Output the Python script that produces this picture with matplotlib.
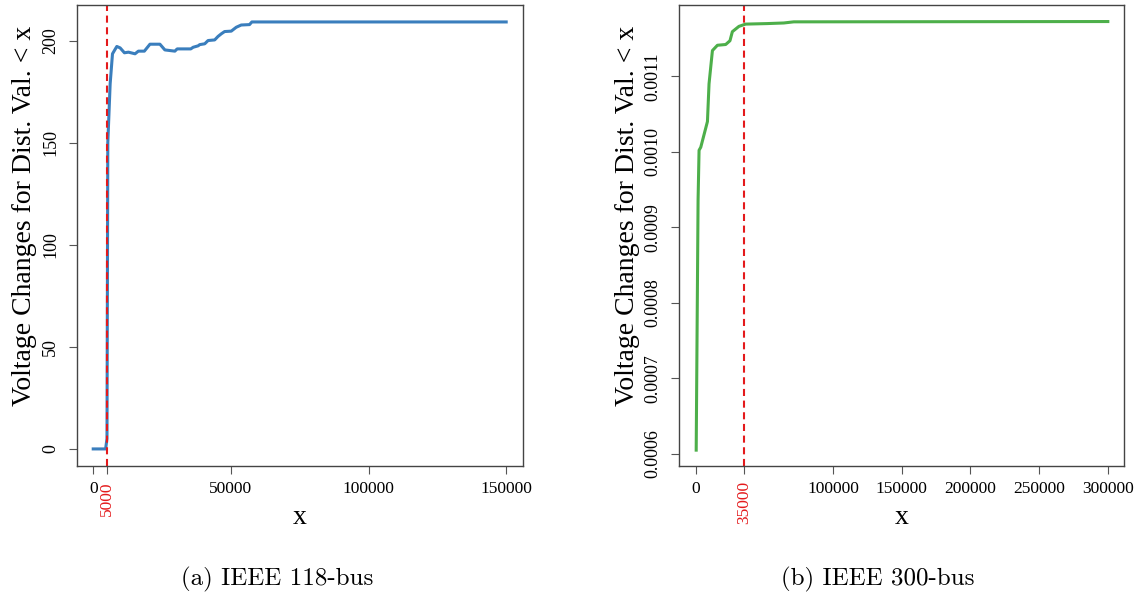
import matplotlib
matplotlib.use("Agg")
import matplotlib.pyplot as plt

# ---- data: panel (a) IEEE 118-bus ----
x118 = [0, 4500, 5000, 5300, 6150, 7000, 8570, 9770, 11340, 12800, 15190, 16400,
        18570, 20610, 24230, 26030, 29650, 30500, 35430, 36300, 38100, 38700,
        40500, 41720, 44120, 45330, 46530, 47730, 50140, 51950, 53760, 56770,
        57630, 150000]
y118 = [0, 0, 5, 150, 178.8, 193.5, 197.1, 196.4, 194.0, 194.3, 193.5, 194.8,
        194.8, 198.2, 198.2, 195.4, 194.8, 195.9, 195.9, 196.7, 197.4, 198.0,
        198.4, 200.0, 200.3, 202.0, 203.3, 204.4, 204.6, 206.5, 207.6, 207.8,
        209.1, 209.1]
cut118 = 5000

# ---- data: panel (b) IEEE 300-bus ----
x300 = [300, 1670, 2390, 3630, 8490, 9650, 12120, 15750, 21770, 24890, 26630,
        31420, 36280, 52030, 64080, 71340, 300000]
y300 = [0.000605, 0.000936, 0.001002, 0.001006, 0.001040, 0.001090, 0.001134,
        0.001141, 0.001142, 0.001147, 0.001159, 0.001166, 0.001169, 0.0011697,
        0.0011705, 0.001172, 0.0011724]
cut300 = 35000

xt118 = [0, 50000, 100000, 150000]
yt118 = [0, 50, 100, 150, 200]
xt300 = [0, 100000, 150000, 200000, 250000, 300000]
yt300 = [0.0006, 0.0007, 0.0008, 0.0009, 0.0010, 0.0011]
yt300_labels = ["0.0006", "0.0007", "0.0008", "0.0009", "0.0010", "0.0011"]

ylabel = "Voltage Changes for Dist. Val. < x"
captions = ["(a) IEEE 118-bus", "(b) IEEE 300-bus"]

BLUE = "#3a7ebd"
GREEN = "#4daf4a"
RED = "#e41a1c"
SERIF = ["Liberation Serif", "DejaVu Serif"]

W, H = 1140, 598
fig = plt.figure(figsize=(W / 100, H / 100), dpi=100)


def px_axes(l, t, r, b):
    return fig.add_axes([l / W, 1 - b / H, (r - l) / W, (b - t) / H])


def style(ax, xticks, cut, yticks, ylabels):
    ticks = sorted(xticks + [cut])
    ax.set_xticks(ticks)
    labs = [str(t) for t in ticks]
    ax.set_xticklabels(labs, fontfamily=SERIF, fontsize=12.5)
    idx = ticks.index(cut)
    tl = ax.get_xticklabels()[idx]
    tl.set_color(RED)
    tl.set_rotation(90)
    tl.set_va("top")
    tl.set_ha("center")
    ax.xaxis.get_major_ticks()[idx].tick1line.set_color(RED)
    ax.set_yticks(yticks)
    ax.set_yticklabels(ylabels, fontfamily=SERIF, fontsize=13,
                       rotation=90, va="center")
    ax.tick_params(axis="both", length=5.8, width=0.8, color="#555555")
    ax.tick_params(axis="x", pad=5)
    ax.tick_params(axis="y", pad=7)
    for s in ax.spines.values():
        s.set_color("#444444")
        s.set_linewidth(1.0)
    ax.axvline(cut, color=RED, lw=1.5, dashes=(3.4, 2.2))


# panel a
ax1 = px_axes(76.7, 5, 522.7, 466)
ax1.plot(x118, y118, color=BLUE, lw=2.2, solid_joinstyle="round")
ax1.set_xlim(-6000, 156000)
ax1.set_ylim(-8.36, 217.4)
style(ax1, xt118, cut118, yt118, [str(v) for v in yt118])

# panel b
ax2 = px_axes(679.3, 5, 1124.3, 466)
ax2.plot(x300, y300, color=GREEN, lw=2.2, solid_joinstyle="round")
ax2.set_xlim(-12000, 312000)
ax2.set_ylim(0.000584, 0.0011943)
style(ax2, xt300, cut300, yt300, yt300_labels)

# axis labels
fig.text(25 / W, 1 - 216 / H, ylabel, rotation=90, ha="center", va="center",
         fontfamily=SERIF, fontsize=20)
fig.text(627 / W, 1 - 216 / H, ylabel, rotation=90, ha="center", va="center",
         fontfamily=SERIF, fontsize=20)
fig.text(299.7 / W, 1 - 518 / H, "x", ha="center", va="center",
         fontfamily=SERIF, fontsize=20)
fig.text(901.8 / W, 1 - 518 / H, "x", ha="center", va="center",
         fontfamily=SERIF, fontsize=20)

# captions
fig.text(277 / W, 1 - 579 / H, captions[0], ha="center", va="center",
         fontfamily="cmr10", fontsize=18)
fig.text(878 / W, 1 - 579 / H, captions[1], ha="center", va="center",
         fontfamily="cmr10", fontsize=18)

fig.savefig("out.png", dpi=100)
